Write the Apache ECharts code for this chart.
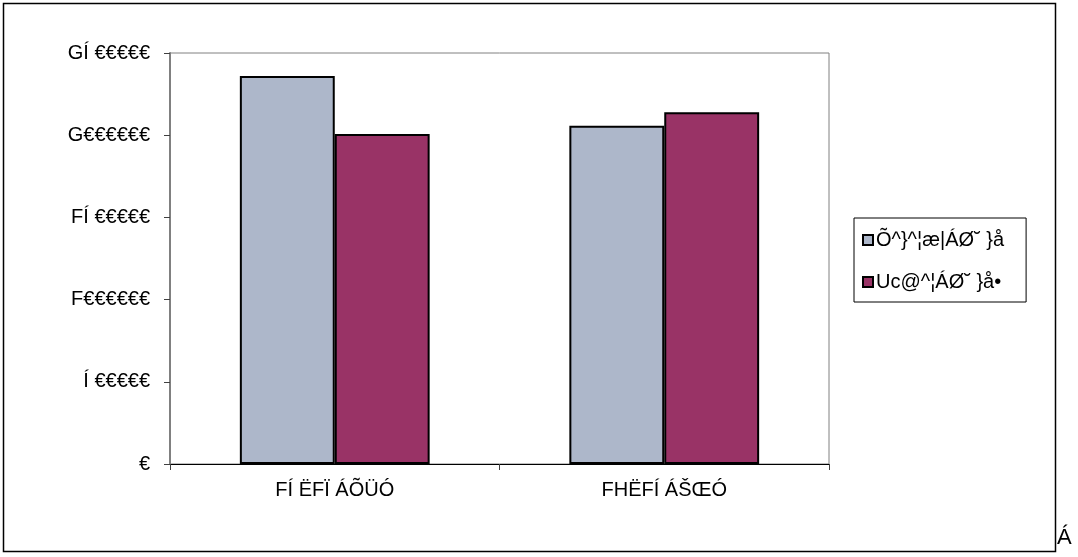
<!DOCTYPE html>
<html>
<head>
<meta charset="utf-8">
<script src="https://cdn.jsdelivr.net/npm/echarts@6/dist/echarts.min.js"></script>
<style>
  html, body { margin: 0; padding: 0; background: #fff; }
  #chart { width: 1078px; height: 557px; }
</style>
</head>
<body>
<div id="chart"></div>
<script>
// Category names, series names and values
const categories = ['FÍ ËFÏ ÁÕÜÓ', 'FHËFÍ ÁŠŒÓ'];
const seriesNames = ['Õ^}^¦æ|ÁØ˘ }å', 'Uc@^¦ÁØ˘ }å•'];
const seriesA = [2360000, 2058000];
const seriesB = [2007000, 2139000];
// Y tick labels, one per 500000 step
const yTickLabels = ['€', 'Í €€€€€', 'F€€€€€€', 'FÍ €€€€€', 'G€€€€€€', 'GÍ €€€€€'];
const yStep = 500000;

const font = '"Liberation Sans", Arial, sans-serif';
const fs = 20;
const chart = echarts.init(document.getElementById('chart'));

chart.setOption({
  animation: false,
  backgroundColor: '#ffffff',
  textStyle: { fontFamily: font },
  grid: {
    left: 170, right: 249, top: 53, bottom: 93,
    show: true, borderColor: '#808080', borderWidth: 1, backgroundColor: 'transparent'
  },
  legend: {
    orient: 'vertical',
    left: 854, top: 218,
    padding: [12, 22, 10, 8],
    itemGap: 22,
    itemWidth: 10, itemHeight: 10,
    borderColor: '#000000', borderWidth: 1,
    icon: 'rect',
    textStyle: { fontFamily: font, fontSize: fs, color: '#000', padding: [0, 0, 0, -2] },
    data: seriesNames
  },
  xAxis: {
    type: 'category',
    data: categories,
    axisLine: { lineStyle: { color: '#000000', width: 1 } },
    axisTick: { show: true, length: 6, lineStyle: { color: '#404040' } },
    axisLabel: { fontFamily: font, fontSize: fs, color: '#000', margin: 16 }
  },
  yAxis: {
    type: 'value',
    min: 0, max: 2500000, interval: yStep,
    axisLine: { show: true, lineStyle: { color: '#808080', width: 2 } },
    axisTick: { show: true, length: 6, lineStyle: { color: '#404040' } },
    splitLine: { show: false },
    axisLabel: {
      fontFamily: font, fontSize: fs, color: '#000', margin: 20,
      formatter: v => yTickLabels[Math.round(v / yStep)]
    }
  },
  series: [
    {
      name: seriesNames[0], type: 'bar', data: seriesA,
      barGap: '0%', barCategoryGap: '42.4%',
      itemStyle: { color: '#ADB7CA', borderColor: '#000000', borderWidth: 2 }
    },
    {
      name: seriesNames[1], type: 'bar', data: seriesB,
      itemStyle: { color: '#993366', borderColor: '#000000', borderWidth: 2 }
    }
  ],
  graphic: [
    {
      type: 'rect', silent: true, z: -1,
      shape: { x: 3.5, y: 3.5, width: 1052, height: 548 },
      style: { fill: 'none', stroke: '#000000', lineWidth: 1.5 }
    },
    {
      type: 'text', left: 1057, top: 527,
      style: { text: 'Á', font: '22px ' + font, fill: '#000' }
    }
  ]
});
</script>
</body>
</html>
